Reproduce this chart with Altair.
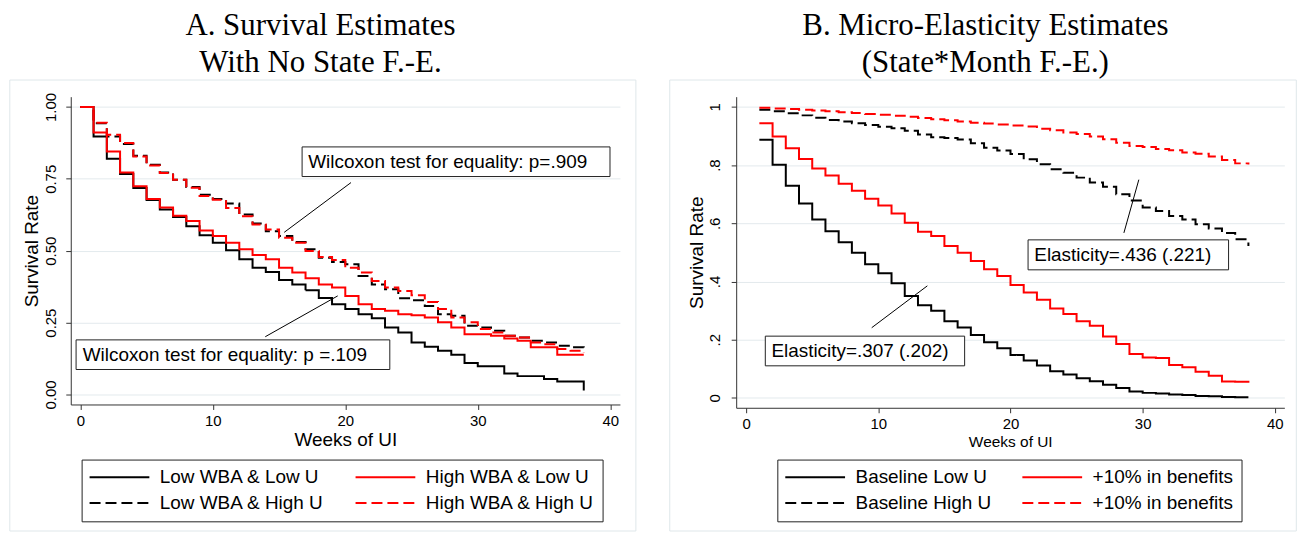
import altair as alt
import pandas as pd

# ---------------- Panel A data (weeks 0..38) ----------------
weeks_a = list(range(0, 39))
a_low_wba_low_u = [1.0, 0.897, 0.820, 0.767, 0.718, 0.676, 0.643, 0.617, 0.585, 0.554,
                   0.528, 0.502, 0.470, 0.441, 0.426, 0.398, 0.383, 0.363, 0.336, 0.314,
                   0.297, 0.279, 0.265, 0.233, 0.216, 0.181, 0.166, 0.152, 0.138, 0.110,
                   0.098, 0.098, 0.073, 0.064, 0.064, 0.054, 0.045, 0.045, 0.014]
a_high_wba_low_u = [1.0, 0.911, 0.845, 0.772, 0.724, 0.680, 0.650, 0.622, 0.603, 0.570,
                    0.551, 0.528, 0.505, 0.485, 0.470, 0.441, 0.424, 0.404, 0.383, 0.372,
                    0.343, 0.314, 0.297, 0.291, 0.279, 0.276, 0.268, 0.251, 0.233, 0.210,
                    0.210, 0.204, 0.195, 0.187, 0.164, 0.164, 0.138, 0.138, 0.138]
a_low_wba_high_u = [1.0, 0.943, 0.897, 0.871, 0.830, 0.799, 0.772, 0.747, 0.722, 0.695,
                    0.680, 0.664, 0.626, 0.595, 0.568, 0.551, 0.530, 0.505, 0.476, 0.461,
                    0.453, 0.412, 0.383, 0.366, 0.335, 0.328, 0.308, 0.279, 0.274, 0.239,
                    0.233, 0.222, 0.204, 0.198, 0.187, 0.181, 0.170, 0.164, 0.155]
a_high_wba_high_u = [1.0, 0.945, 0.903, 0.875, 0.828, 0.796, 0.770, 0.747, 0.719, 0.690,
                     0.677, 0.649, 0.620, 0.591, 0.574, 0.545, 0.528, 0.499, 0.478, 0.468,
                     0.441, 0.424, 0.395, 0.372, 0.360, 0.345, 0.322, 0.297, 0.268, 0.251,
                     0.228, 0.216, 0.204, 0.198, 0.181, 0.175, 0.158, 0.152, 0.145]
# legend order (column-wise): Low/Low, Low/High, High/Low, High/High
series_a = ["Low WBA & Low U", "Low WBA & High U", "High WBA & Low U", "High WBA & High U"]

# ---------------- Panel B data (weeks 1..38) ----------------
weeks_b = list(range(1, 39))
b_base_low = [0.887, 0.801, 0.729, 0.668, 0.613, 0.573, 0.535, 0.499, 0.459, 0.428,
              0.394, 0.350, 0.318, 0.299, 0.263, 0.242, 0.216, 0.191, 0.170, 0.147,
              0.128, 0.111, 0.091, 0.080, 0.067, 0.057, 0.045, 0.034, 0.022, 0.017,
              0.015, 0.011, 0.010, 0.006, 0.005, 0.003, 0.002, 0.002]
b_plus_low = [0.944, 0.898, 0.858, 0.821, 0.788, 0.764, 0.736, 0.712, 0.684, 0.661,
              0.634, 0.602, 0.571, 0.556, 0.522, 0.499, 0.470, 0.442, 0.419, 0.388,
              0.362, 0.337, 0.307, 0.288, 0.263, 0.248, 0.211, 0.185, 0.151, 0.139,
              0.137, 0.113, 0.105, 0.090, 0.076, 0.056, 0.055, 0.052]
b_base_high = [0.990, 0.985, 0.978, 0.971, 0.963, 0.955, 0.950, 0.944, 0.938, 0.932,
               0.927, 0.918, 0.905, 0.896, 0.893, 0.888, 0.875, 0.860, 0.850, 0.838,
               0.820, 0.803, 0.786, 0.774, 0.757, 0.740, 0.726, 0.700, 0.678, 0.654,
               0.642, 0.625, 0.613, 0.597, 0.582, 0.567, 0.545, 0.522]
b_plus_high = [0.997, 0.995, 0.993, 0.990, 0.988, 0.985, 0.982, 0.979, 0.976, 0.973,
               0.970, 0.966, 0.962, 0.958, 0.954, 0.950, 0.946, 0.943, 0.940, 0.936,
               0.933, 0.925, 0.920, 0.912, 0.907, 0.898, 0.889, 0.877, 0.866, 0.862,
               0.855, 0.851, 0.843, 0.839, 0.830, 0.818, 0.806, 0.802]
series_b = ["Baseline Low U", "Baseline High U", "+10% in benefits", "+10% in benefits (High U)"]

# ---------------- Annotations ----------------
ann_a_text = ["Wilcoxon test for equality: p=.909", "Wilcoxon test for equality: p =.109"]
ann_a_text_x = [17.2, 0.18]
ann_a_text_y = [0.81, 0.138]
ann_a_box_x = [16.74, -0.32]
ann_a_box_x2 = [39.98, 23.36]
ann_a_box_y = [0.861, 0.190]
ann_a_box_y2 = [0.758, 0.087]
ann_a_line_x = [15.39, 13.96]
ann_a_line_y = [0.564, 0.201]
ann_a_line_x2 = [20.43, 19.43]
ann_a_line_y2 = [0.737, 0.343]

ann_b_text = ["Elasticity=.307 (.202)", "Elasticity=.436 (.221)"]
ann_b_text_x = [1.91, 21.8]
ann_b_text_y = [0.161, 0.491]
ann_b_box_x = [1.45, 21.33]
ann_b_box_x2 = [16.53, 36.5]
ann_b_box_y = [0.212, 0.543]
ann_b_box_y2 = [0.110, 0.440]
ann_b_line_x = [9.50, 28.58]
ann_b_line_y = [0.241, 0.567]
ann_b_line_x2 = [13.71, 29.71]
ann_b_line_y2 = [0.385, 0.750]

SANS = "Liberation Sans"
SERIF = "Liberation Serif"
GRID = "#e3eaed"
FRAME = "#dfe7ea"
AXC = "#333333"
COLORS = ["#000000", "#000000", "#ff0000", "#ff0000"]
DASHES = [[1, 0], [11, 5], [1, 0], [11, 5]]


def long_df(weeks, cols, names):
    rows = []
    for name, vals in zip(names, cols):
        for w, v in zip(weeks, vals):
            rows.append({"week": w, "value": v, "series": name})
    return pd.DataFrame(rows)


df_a = long_df(weeks_a, [a_low_wba_low_u, a_low_wba_high_u, a_high_wba_low_u, a_high_wba_high_u], series_a)
df_b = long_df(weeks_b, [b_base_low, b_base_high, b_plus_low, b_plus_high], series_b)


def panel(df, names, title, xdom, ydom, width, height, yvals, ylabel_expr, ylab_pad,
          ytitle_x, xtitle_size, xtitle_y, legend_x, frame_x, frame_x2,
          t_text, t_x, t_y, b_x, b_x2, b_y, b_y2, l_x, l_y, l_x2, l_y2, legend_label_expr):
    xscale = alt.Scale(domain=xdom, nice=False, zero=False)
    yscale = alt.Scale(domain=ydom, nice=False, zero=False)
    xaxis = alt.Axis(values=[0, 10, 20, 30, 40], title="Weeks of UI", grid=False,
                     labelFont=SANS, labelFontSize=15, labelColor="black", labelFlush=False,
                     labelPadding=4, tickSize=5, tickColor=AXC, domainColor=AXC,
                     titleFont=SANS, titleFontSize=xtitle_size, titleFontWeight="normal",
                     titleColor="black", titleY=xtitle_y, titleBaseline="alphabetic")
    yaxis = alt.Axis(values=yvals, labelExpr=ylabel_expr, title="Survival Rate",
                     grid=True, gridColor=GRID, gridWidth=1,
                     labelFont=SANS, labelFontSize=15, labelColor="black",
                     labelAngle=270, labelAlign="center", labelBaseline="alphabetic",
                     labelPadding=ylab_pad, labelFlush=False, tickSize=5, tickColor=AXC,
                     domainColor=AXC, titleFont=SANS, titleFontSize=19,
                     titleFontWeight="normal", titleColor="black", titleAngle=270,
                     titleAlign="center", titleBaseline="alphabetic",
                     titleX=ytitle_x, titleY=height / 2)
    legend = alt.Legend(title=None, orient="none", legendX=legend_x, legendY=364.3,
                        columns=2, gridAlign="each", symbolType="M-3.75,0H3.75",
                        symbolSize=256, symbolStrokeWidth=2, symbolOffset=20.5,
                        labelFont=SANS, labelFontSize=19, labelColor="black",
                        labelOffset=31, columnPadding=27, rowPadding=6, padding=8,
                        strokeColor="#222222", fillColor="white", labelLimit=400,
                        labelExpr=legend_label_expr)

    frame = alt.Chart(pd.DataFrame({"k": [0]})).mark_rect(
        fillOpacity=0, stroke=FRAME, strokeWidth=1
    ).encode(x=alt.value(frame_x), x2=alt.value(frame_x2), y=alt.value(-16.7), y2=alt.value(436))

    lines = alt.Chart(df).mark_line(interpolate="step-after", strokeWidth=2).encode(
        x=alt.X("week:Q", scale=xscale, axis=xaxis),
        y=alt.Y("value:Q", scale=yscale, axis=yaxis),
        color=alt.Color("series:N", scale=alt.Scale(domain=names, range=COLORS), legend=legend),
        strokeDash=alt.StrokeDash("series:N", scale=alt.Scale(domain=names, range=DASHES), legend=legend),
        detail="series:N",
    )

    ann_lines = alt.Chart(pd.DataFrame({"x": l_x, "y": l_y, "x2": l_x2, "y2": l_y2})).mark_rule(
        color="black", strokeWidth=1
    ).encode(x="x:Q", y="y:Q", x2="x2:Q", y2="y2:Q")

    boxes = alt.Chart(pd.DataFrame({"x": b_x, "x2": b_x2, "y": b_y, "y2": b_y2})).mark_rect(
        fill="white", stroke="#222222", strokeWidth=1
    ).encode(x="x:Q", x2="x2:Q", y="y:Q", y2="y2:Q")

    texts = alt.Chart(pd.DataFrame({"x": t_x, "y": t_y, "t": t_text})).mark_text(
        font=SANS, fontSize=19, align="left", baseline="middle", color="black"
    ).encode(x="x:Q", y="y:Q", text="t:N")

    return alt.layer(frame, lines, ann_lines, boxes, texts).properties(
        width=width, height=height,
        title=alt.TitleParams(text=title, font=SERIF, fontSize=31, fontWeight="normal",
                              color="black", anchor="middle", frame="group", dx=-25,
                              offset=1, lineHeight=37),
    )


chart_a = panel(df_a, series_a, ["A. Survival Estimates", "With No State F.-E."],
                [-0.722, 40.73], [-0.0346, 1.0357], 551.3, 309,
                [0, 0.25, 0.5, 0.75, 1], "format(datum.value, '.2f')", 10,
                -33, 19, 41, 10.9, -61.2, 567.3,
                ann_a_text, ann_a_text_x, ann_a_text_y, ann_a_box_x, ann_a_box_x2,
                ann_a_box_y, ann_a_box_y2, ann_a_line_x, ann_a_line_y, ann_a_line_x2,
                ann_a_line_y2, "datum.label")

chart_b = panel(df_b, series_b, ["B. Micro-Elasticity Estimates", "(State*Month F.-E.)"],
                [-0.754, 40.72], [-0.0342, 1.0353], 550.3, 312.3,
                [0, 0.2, 0.4, 0.6, 0.8, 1],
                "datum.value == 0 ? '0' : datum.value == 1 ? '1' : '.' + format(datum.value * 10, '.0f')",
                11.3, -33.9, 15.5, 39.3, 41.3, -66.7, 562.3,
                ann_b_text, ann_b_text_x, ann_b_text_y, ann_b_box_x, ann_b_box_x2,
                ann_b_box_y, ann_b_box_y2, ann_b_line_x, ann_b_line_y, ann_b_line_x2,
                ann_b_line_y2,
                "datum.label == '+10% in benefits (High U)' ? '+10% in benefits' : datum.label")

chart = alt.hconcat(chart_a, chart_b, spacing=31).resolve_scale(
    x="independent", y="independent", color="independent", strokeDash="independent"
).resolve_legend(color="independent", strokeDash="independent").properties(
    padding=0, background="white"
).configure_view(stroke="transparent")

chart.save("out.html", embed_options={"renderer": "svg", "actions": False})
